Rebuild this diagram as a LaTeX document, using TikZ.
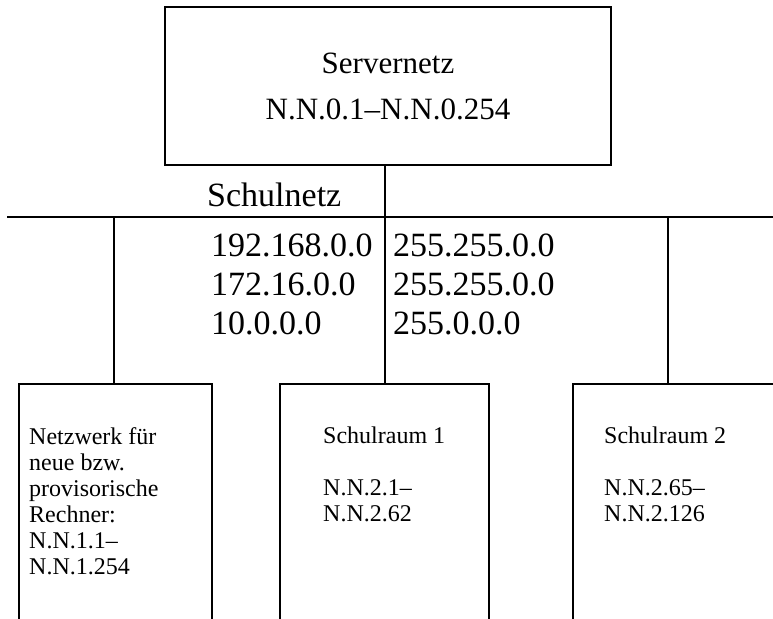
\documentclass[tikz,border=0pt]{standalone}
\usepackage{fontspec}
\setmainfont{Liberation Serif}
\begin{document}
\begin{tikzpicture}[x=1pt,y=-1pt,
  line/.style={line width=1.5pt,draw=black},
  boxnode/.style={line, rectangle, inner sep=0pt},
  small/.style={font=\fontsize{24}{26}\selectfont, align=left, anchor=north west, inner sep=0pt},
  big/.style={font=\fontsize{34}{39}\selectfont, align=left, anchor=north west, inner sep=0pt}
]
\useasboundingbox (0,0) rectangle (773,618);
% top box
\node[boxnode, minimum width=446pt, minimum height=158pt, align=center,
      font=\fontsize{31}{46}\selectfont] (top) at (388,86) {Servernetz\\N.N.0.1--N.N.0.254};
% bus
\coordinate (busL) at (7,217);
\coordinate (busR) at (773,217);
\draw[line] (busL) -- (busR);
\node[font=\fontsize{34}{40}\selectfont, anchor=west, inner sep=0pt] (schul) at (207,195) {Schulnetz};
% bottom boxes (extend beyond the page bottom)
\node[boxnode, minimum width=193pt, minimum height=260pt] (lbox) at (115.5,514) {};
\node[boxnode, minimum width=209pt, minimum height=260pt] (mbox) at (384.5,514) {};
\node[boxnode, minimum width=220pt, minimum height=260pt] (rbox) at (683,514) {};
% connectors
\coordinate (c1) at (114,217);
\coordinate (c2) at (385,217);
\coordinate (c3) at (668,217);
\draw[line] (c1) -- (c1 |- lbox.north);
\draw[line] (c2 |- top.south) -- (c2 |- mbox.north);
\draw[line] (c3) -- (c3 |- rbox.north);
% address/mask table
\node[big] (nets) at (211,233.5) {192.168.0.0\\172.16.0.0\\10.0.0.0};
\node[big] (masks) at (393,233.5) {255.255.0.0\\255.255.0.0\\255.0.0.0};
% box texts
\node[small] (ltext) at (29,427) {Netzwerk für\\neue bzw.\\provisorische\\Rechner:\\N.N.1.1--\\N.N.1.254};
\node[small] (mtext) at (323,427) {Schulraum 1\\[26pt]N.N.2.1--\\N.N.2.62};
\node[small] (rtext) at (604,427) {Schulraum 2\\[26pt]N.N.2.65--\\N.N.2.126};
\end{tikzpicture}
\end{document}
